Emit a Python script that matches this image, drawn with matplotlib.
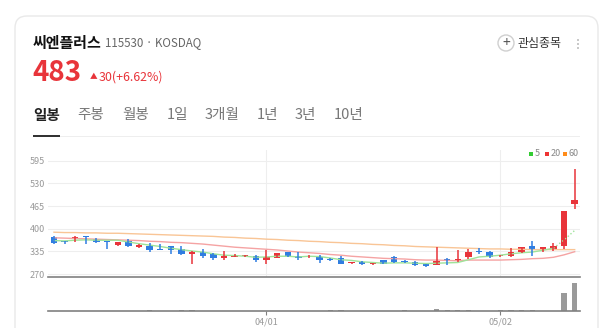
import numpy as np
import matplotlib
matplotlib.use('Agg')
import matplotlib.pyplot as plt
from matplotlib.patches import FancyBboxPatch, Circle, Rectangle
from matplotlib.transforms import IdentityTransform

plt.rcParams['font.family'] = ['Noto Sans CJK KR', 'DejaVu Sans']

# ---- data ----
opens = [376, 363, 370, 378, 371, 363, 353, 365, 347, 351, 341, 349, 342, 328, 334, 327, 317, 320, 321, 322,
         311, 317, 332, 322, 318, 320, 312, 315, 301, 305, 299, 309, 319, 306, 304, 299, 297, 314, 307, 319,
         336, 334, 321, 322, 332, 351, 341, 338, 351, 470]
highs = [378, 366, 378, 379, 373, 364, 363, 370, 357, 359, 357, 351, 349, 336, 342, 330, 336, 326, 325, 324,
         338, 331, 334, 332, 324, 324, 316, 322, 304, 307, 302, 311, 322, 309, 307, 300, 348, 315, 339, 343,
         345, 336, 325, 345, 348, 364, 348, 360, 452, 572]
lows = [356, 357, 363, 356, 358, 342, 350, 347, 345, 334, 339, 326, 325, 299, 316, 311, 311, 318, 319, 305,
        300, 315, 320, 309, 316, 303, 306, 298, 299, 297, 297, 298, 303, 302, 293, 289, 295, 296, 305, 313,
        326, 316, 319, 320, 330, 322, 332, 336, 343, 458]
closes = [360, 362, 376, 376, 361, 361, 362, 349, 352, 340, 340, 340, 327, 334, 323, 315, 322, 323, 323, 309,
          319, 330, 322, 315, 320, 311, 310, 300, 302, 300, 301, 300, 305, 305, 296, 292, 306, 310, 312, 334,
          332, 319, 323, 332, 347, 343, 347, 349, 452, 483]
volumes = [40e3, 30e3, 35e3, 30e3, 25e3, 40e3, 30e3, 35e3, 30e3, 60e3, 40e3, 30e3, 60e3, 70e3, 50e3, 40e3,
           30e3, 25e3, 25e3, 40e3, 45e3, 40e3, 30e3, 30e3, 30e3, 50e3, 60e3, 60e3, 40e3, 30e3, 30e3, 30e3,
           40e3, 60e3, 40e3, 35e3, 240e3, 60e3, 60e3, 60e3, 50e3, 40e3, 60e3, 60e3, 60e3, 60e3, 50e3, 50e3,
           1880e3, 2910e3]
ma5 = [366, 365, 367, 368, 367, 367, 367, 362, 357, 353, 349, 344, 340, 336, 333, 328, 324, 323, 321, 318,
       319, 321, 321, 319, 321, 320, 316, 311, 309, 305, 303, 301, 302, 302, 301, 300, 301, 302, 303, 311,
       319, 321, 324, 328, 331, 333, 338, 344, 368, 395]
ma20 = [374, 373, 372, 371, 370, 369, 368, 367, 366, 364, 363, 361, 360, 358, 356, 353, 350, 347, 345, 343,
        341, 339, 336, 333, 331, 329, 326, 324, 321, 319, 317, 315, 314, 313, 311, 310, 310, 309, 308, 310,
        310, 310, 310, 311, 312, 314, 315, 318, 325, 334]
ma60 = [390, 389, 389, 388, 388, 387, 387, 386, 385, 384, 383, 382, 381, 380, 379, 378, 376, 375, 373, 372,
        370, 369, 367, 366, 364, 363, 361, 360, 358, 357, 355, 354, 352, 351, 349, 348, 347, 346, 345, 344,
        343, 342, 342, 341, 341, 340, 340, 340, 340, 340]
date_ticks = [20, 42]
date_labels = ['04/01', '05/02']
price_ticks = [270, 335, 400, 465, 530, 595]

RED = '#e8343a'
BLUE = '#2f7de1'
GRAY = '#9a9a9a'

W, H = 600, 328
fig = plt.figure(figsize=(6, 3.28), dpi=100)
fig.patch.set_facecolor('white')

# card
card = FancyBboxPatch((15, -30), 583, 342, boxstyle='round,pad=0,rounding_size=12',
                      transform=IdentityTransform(), facecolor='white', edgecolor='#e9e9e9', lw=1,
                      zorder=-10)
fig.patches.append(card)

def fy(y):
    return 1 - y / H

def fx(x):
    return x / W

# header texts
fig.text(fx(33), fy(43), '씨엔플러스', fontsize=10.8, fontweight='bold', color='#111', va='center')
fig.text(fx(105), fy(43), '115530 · KOSDAQ', fontsize=8.3, color='#666', va='center')
fig.text(fx(32), fy(73), '483', fontsize=20, fontweight='bold', color=RED, va='center')
fig.text(fx(90), fy(77), '▲', fontsize=5.5, color=RED, va='center')
fig.text(fx(99), fy(77), '30(+6.62%)', fontsize=8.9, color=RED, va='center')

fig.patches.append(Circle((506, H - 43), 8, transform=IdentityTransform(), facecolor='white',
                          edgecolor='#cfcfcf', lw=1))
fig.text(fx(506), fy(43), '+', fontsize=10, color='#555', ha='center', va='center')
fig.text(fx(518), fy(43), '관심종목', fontsize=8.6, color='#333', va='center')
for dy in (-4, 0, 4):
    fig.patches.append(Circle((578, H - 44 + dy), 1, transform=IdentityTransform(),
                              facecolor='#bbb', edgecolor='none'))

tabs = ['일봉', '주봉', '월봉', '1일', '3개월', '1년', '3년', '10년']
tab_x = [33, 77, 122, 167, 205, 257, 295, 334]
for i, (t, x) in enumerate(zip(tabs, tab_x)):
    fig.text(fx(x), fy(115), t, fontsize=10.5, va='center',
             color='#222' if i == 0 else '#777', fontweight='bold' if i == 0 else 'normal')
fig.patches.append(Rectangle((33, H - 137), 547, 1, transform=IdentityTransform(),
                             facecolor='#eeeeee', edgecolor='none'))
fig.patches.append(Rectangle((33, H - 137), 27, 2, transform=IdentityTransform(),
                             facecolor='#333', edgecolor='none'))

# ---- price panel ----
x = np.arange(len(closes))
ax = fig.add_axes([fx(48), fy(277), fx(580) - fx(48), fy(150) - fy(277)])
ax.patch.set_alpha(0)
ax.set_xlim(-0.56, 49.5)
ax.set_ylim(261.4, 626)
for s in ['top', 'left', 'right']:
    ax.spines[s].set_visible(False)
ax.spines['bottom'].set_color('#808080')
ax.spines['bottom'].set_linewidth(1.2)
ax.set_yticks(price_ticks)
ax.set_yticklabels([str(p) for p in price_ticks])
ax.tick_params(axis='y', length=0, pad=2, labelsize=6.5, labelcolor='#999')
ax.set_xticks(date_ticks)
ax.tick_params(axis='x', length=0, labelbottom=False)
ax.grid(True, color='#eeeeee', lw=0.8)
ax.set_axisbelow(True)

ax.plot(x, ma60, color='#f9c596', lw=1)
ax.plot(x, ma20, color='#f5a3a3', lw=1)
ax.plot(x[:48], ma5[:48], color='#9fe39a', lw=1)
ax.plot(x[47:], ma5[47:], color='#9fe39a', lw=1, ls=':')

for i in x:
    o, h, l, c = opens[i], highs[i], lows[i], closes[i]
    col = RED if c >= o else BLUE
    ax.vlines(i, l, h, color=col, lw=1.1)
    ax.bar(i, max(abs(c - o), 2.5), bottom=min(o, c), width=0.6, color=col, edgecolor='none')

# legend
for lx, lab, col in [(531, '5', '#33cc33'), (547, '20', '#ee3333'), (565, '60', '#ff8c1a')]:
    fig.patches.append(Rectangle((lx - 2, H - 156), 4, 4, transform=IdentityTransform(),
                                 facecolor=col, edgecolor='none'))
    fig.text(fx(lx + 3.5), fy(154), lab, fontsize=6.5, color='#888', va='center')

# ---- volume panel ----
av = fig.add_axes([fx(48), fy(311), fx(580) - fx(48), fy(277) - fy(311)])
av.patch.set_alpha(0)
av.set_xlim(-0.56, 49.5)
av.set_ylim(0, 3.5e6)
av.bar(x, volumes, width=0.5, color=GRAY)
for s in ['top', 'left', 'right']:
    av.spines[s].set_visible(False)
av.spines['bottom'].set_color('#808080')
av.spines['bottom'].set_linewidth(1.2)
av.set_yticks([])
av.set_xticks(date_ticks)
av.set_xticklabels(date_labels)
av.tick_params(axis='x', length=3, color='#808080', labelsize=6.5, labelcolor='#999', pad=2)

fig.savefig('out.png', dpi=100)
